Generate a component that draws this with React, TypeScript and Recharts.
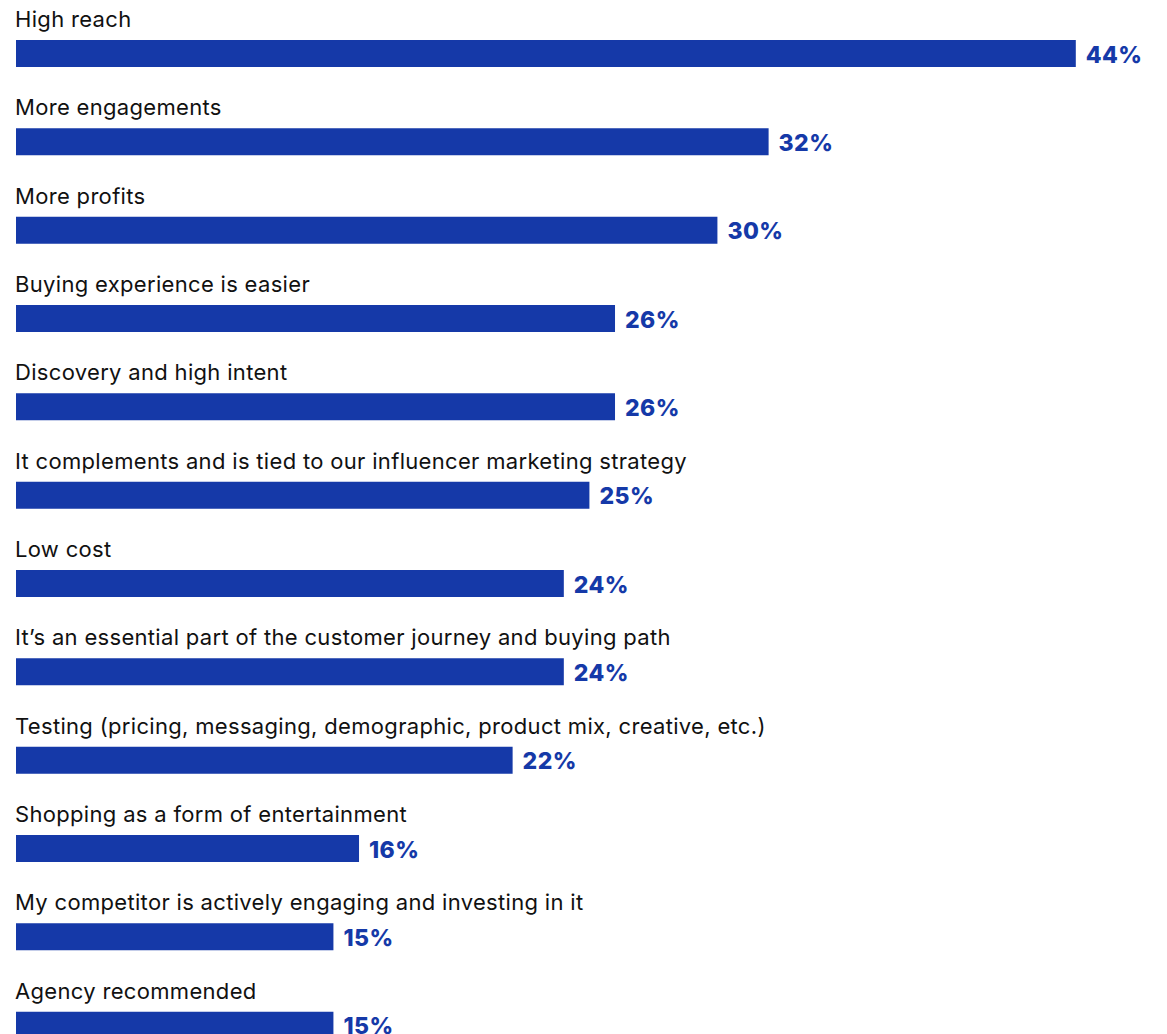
import { BarChart, Bar, XAxis, YAxis, LabelList } from 'recharts'

const reasons = [
  'High reach',
  'More engagements',
  'More profits',
  'Buying experience is easier',
  'Discovery and high intent',
  'It complements and is tied to our influencer marketing strategy',
  'Low cost',
  'It\u2019s an essential part of the customer journey and buying path',
  'Testing (pricing, messaging, demographic, product mix, creative, etc.)',
  'Shopping as a form of entertainment',
  'My competitor is actively engaging and investing in it',
  'Agency recommended',
]

const shares = [44, 32, 30, 26, 26, 25, 24, 24, 22, 16, 15, 15]

const BLUE = '#1539a8'
const FONT = 'Inter, "Noto Sans", sans-serif'

const data = reasons.map((name, i) => ({ name, value: shares[i] }))

function NameLabel(props: any) {
  const { x, y, value } = props
  return (
    <text x={x - 1} y={y - 13} fill="#111" fontSize={22} fontFamily={FONT} letterSpacing={0.32}>
      {value}
    </text>
  )
}

function ValueLabel(props: any) {
  const { x, y, width, height, value } = props
  return (
    <text
      x={x + width + 10}
      y={y + height / 2}
      dy="0.4em"
      fill={BLUE}
      fontSize={23}
      fontWeight={800}
      fontFamily={FONT}
      letterSpacing={0.4}
    >
      {value}%
    </text>
  )
}

export default function App() {
  return (
    <div style={{ position: 'absolute', left: 0, top: 0, width: 1167, height: 1034, overflow: 'hidden', background: '#fff' }}>
      <BarChart
        width={1167}
        height={1080}
        data={data}
        layout="vertical"
        margin={{ top: 9, right: 40, left: 16, bottom: 11 }}
        barCategoryGap={61}
      >
        <XAxis type="number" hide domain={[2.6, 46]} allowDataOverflow />
        <YAxis type="category" dataKey="name" hide />
        <Bar dataKey="value" fill={BLUE} barSize={27} isAnimationActive={false}>
          <LabelList dataKey="name" content={NameLabel} />
          <LabelList dataKey="value" content={ValueLabel} />
        </Bar>
      </BarChart>
    </div>
  )
}
